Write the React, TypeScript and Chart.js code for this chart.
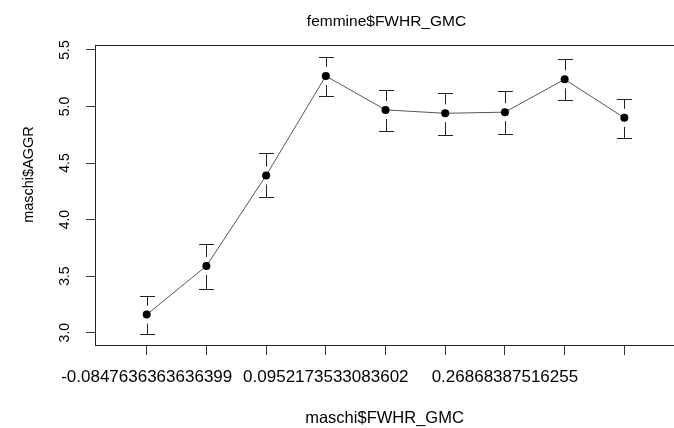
import React, { useEffect, useRef } from 'react';
import { Chart, registerables } from 'chart.js';

Chart.register(...registerables);

const xPositions = [1, 2, 3, 4, 5, 6, 7, 8, 9];
const xTickLabels = ['-0.0847636363636399', '', '', '0.0952173533083602', '', '', '0.26868387516255', '', ''];
const meanValues = [3.16, 3.59, 4.39, 5.27, 4.97, 4.94, 4.95, 5.24, 4.9];
const upperValues = [3.32, 3.78, 4.59, 5.44, 5.15, 5.12, 5.14, 5.42, 5.07];
const lowerValues = [2.99, 3.39, 4.2, 5.09, 4.78, 4.75, 4.76, 5.06, 4.72];
const yTicks = [3.0, 3.5, 4.0, 4.5, 5.0, 5.5];

const mainTitle = 'femmine$FWHR_GMC';
const xTitle = 'maschi$FWHR_GMC';
const yTitle = 'maschi$AGGR';

const FONT = '"Liberation Sans", Arial, sans-serif';

const rPlotPlugin = {
  id: 'rPlot',
  beforeDatasetsDraw(chart: any) {
    const { ctx, scales } = chart;
    const x = scales.x;
    const y = scales.y;
    ctx.save();
    ctx.strokeStyle = '#222';
    ctx.lineWidth = 1;
    const gap = 9;
    const half = 7.5;
    xPositions.forEach((xv, i) => {
      const px = Math.round(x.getPixelForValue(xv)) + 0.5;
      const pm = y.getPixelForValue(meanValues[i]);
      const pu = Math.round(y.getPixelForValue(upperValues[i])) + 0.5;
      const pl = Math.round(y.getPixelForValue(lowerValues[i])) + 0.5;
      ctx.beginPath();
      ctx.moveTo(px - half, pu);
      ctx.lineTo(px + half, pu);
      if (pm - gap > pu) {
        ctx.moveTo(px, pu);
        ctx.lineTo(px, pm - gap);
      }
      ctx.moveTo(px - half, pl);
      ctx.lineTo(px + half, pl);
      if (pm + gap < pl) {
        ctx.moveTo(px, pl);
        ctx.lineTo(px, pm + gap);
      }
      ctx.stroke();
    });
    ctx.restore();
  },
  afterDraw(chart: any) {
    const { ctx, chartArea: a } = chart;
    ctx.save();
    ctx.strokeStyle = '#222';
    ctx.lineWidth = 1;
    ctx.strokeRect(a.left + 0.5, a.top + 0.5, a.right - a.left, a.bottom - a.top - 1);
    ctx.fillStyle = '#000';
    ctx.textAlign = 'center';
    ctx.textBaseline = 'middle';
    ctx.font = `15.5px ${FONT}`;
    ctx.fillText(mainTitle, (a.left + a.right) / 2 + 2, 22);
    ctx.translate(29, 174.5);
    ctx.rotate(-Math.PI / 2);
    ctx.font = `14.5px ${FONT}`;
    ctx.fillText(yTitle, 0, 0);
    ctx.restore();
  },
};

export default function App() {
  const ref = useRef<HTMLCanvasElement | null>(null);

  useEffect(() => {
    document.body.style.margin = '0';
    const canvas = ref.current;
    if (!canvas) return;
    const chart = new Chart(canvas, {
      type: 'line',
      data: {
        datasets: [
          {
            data: xPositions.map((xv, i) => ({ x: xv, y: meanValues[i] })),
            borderColor: '#555',
            borderWidth: 1,
            pointRadius: 4,
            pointBackgroundColor: '#000',
            pointBorderColor: '#000',
            pointBorderWidth: 0,
            tension: 0,
            fill: false,
            clip: false,
          },
        ],
      },
      options: {
        responsive: false,
        animation: false,
        devicePixelRatio: 1,
        layout: { autoPadding: false, padding: { top: 45, left: 0, right: 0, bottom: 0 } },
        plugins: {
          legend: { display: false },
          title: { display: false },
          tooltip: { enabled: false },
        },
        scales: {
          x: {
            type: 'linear',
            min: 0.134,
            max: 9.832,
            afterBuildTicks: (s: any) => {
              s.ticks = xPositions.map((v) => ({ value: v }));
            },
            afterFit: (s: any) => {
              s.height = 82;
              s.paddingLeft = 0;
              s.paddingRight = 0;
            },
            grid: { drawOnChartArea: false, drawTicks: true, tickLength: 9, color: '#333', lineWidth: 1 },
            border: { display: false },
            ticks: {
              autoSkip: false,
              minRotation: 0,
              maxRotation: 0,
              padding: 12,
              color: '#000',
              font: { size: 17, family: FONT },
              callback: (v: any) => {
                const idx = xPositions.indexOf(Number(v));
                return idx >= 0 ? xTickLabels[idx] : '';
              },
            },
            title: {
              display: true,
              text: xTitle,
              color: '#000',
              font: { size: 16.5, family: FONT },
              padding: { top: 0, bottom: 0 },
            },
          },
          y: {
            type: 'linear',
            min: 2.882,
            max: 5.544,
            afterBuildTicks: (s: any) => {
              s.ticks = yTicks.map((v) => ({ value: v }));
            },
            afterFit: (s: any) => {
              s.width = 95;
              s.paddingTop = 0;
              s.paddingBottom = 0;
            },
            grid: { drawOnChartArea: false, drawTicks: true, tickLength: 9, color: '#333', lineWidth: 1 },
            border: { display: false },
            ticks: {
              minRotation: 90,
              maxRotation: 90,
              crossAlign: 'center',
              padding: 11,
              color: '#000',
              font: { size: 14, family: FONT },
              callback: (v: any) => Number(v).toFixed(1),
            },
          },
        },
      } as any,
      plugins: [rPlotPlugin],
    });
    return () => chart.destroy();
  }, []);

  return (
    <canvas
      ref={ref}
      width={674}
      height={428}
      style={{ display: 'block', width: 674, height: 428 }}
    />
  );
}
